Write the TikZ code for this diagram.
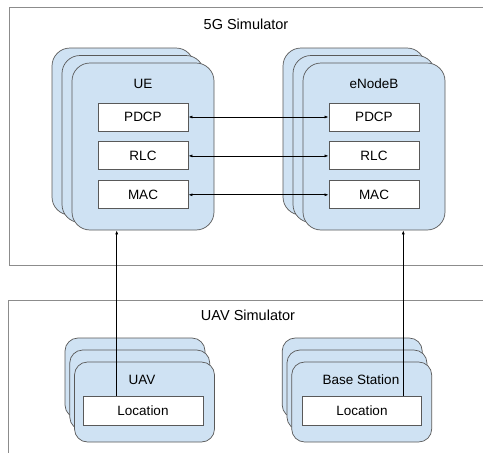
\documentclass[tikz,border=0pt]{standalone}
\usepackage{fontspec}
\setmainfont{Liberation Sans}
\usetikzlibrary{positioning,arrows.meta}
\definecolor{cardblue}{HTML}{CFE2F3}
\definecolor{edgegray}{HTML}{595959}
\definecolor{framegray}{HTML}{8C8C8C}

\begin{document}
\begin{tikzpicture}[x=1pt,y=-1pt,
    frame/.style={draw=framegray,line width=0.8pt},
    bigcard/.style={draw=edgegray,fill=cardblue,line width=0.7pt,rounded corners=18pt,
      minimum width=142pt,minimum height=167pt,inner sep=0pt},
    smallcard/.style={draw=edgegray,fill=cardblue,line width=0.7pt,rounded corners=13pt,
      minimum width=140pt,minimum height=80pt,inner sep=0pt},
    layer/.style={draw=edgegray,fill=white,line width=0.9pt,minimum width=90pt,
      minimum height=28pt,inner sep=0pt,font=\fontsize{13.5}{15}\selectfont},
    label/.style={inner sep=0pt,font=\fontsize{13.5}{15}\selectfont},
    title/.style={inner sep=0pt,font=\fontsize{14.5}{16}\selectfont},
    link/.style={line width=0.7pt,{Latex[length=4pt,width=3pt]}-{Latex[length=4pt,width=3pt]}},
    feed/.style={line width=0.7pt,-{Latex[length=4pt,width=3pt]}}]
  \clip (0,0) rectangle (483,453);

  % the two simulators
  \draw[frame] (9,7) rectangle (495,265);
  \draw[frame] (8.5,300) rectangle (495,470);
  \node[title] (simtop) at (246,24) {5G Simulator};
  \node[title] (simbot) at (248,315) {UAV Simulator};

  % UE and eNodeB stacks
  \foreach \i/\dx/\dy in {2/-20/-15,1/-10/-7.5}{
    \node[bigcard] (ue\i) at (143+\dx,146.5+\dy) {};
    \node[bigcard] (enb\i) at (374+\dx,146.5+\dy) {};
  }
  \node[bigcard] (ue) at (143,146.5) {};
  \node[bigcard] (enb) at (374,146.5) {};
  \node[label] (uename) at ([yshift=-21.5pt]ue.north) {UE};
  \node[label] (enbname) at ([yshift=-21.5pt]enb.north) {eNodeB};

  \node[layer] (uepdcp) at (143,117) {PDCP};
  \node[layer,below=10pt of uepdcp] (uerlc) {RLC};
  \node[layer,below=10pt of uerlc] (uemac) {MAC};
  \node[layer] (enbpdcp) at (374,117) {PDCP};
  \node[layer,below=10pt of enbpdcp] (enbrlc) {RLC};
  \node[layer,below=10pt of enbrlc] (enbmac) {MAC};

  \foreach \l in {pdcp,rlc,mac}
    \draw[link] (ue\l) -- (enb\l);

  % UAV and base station stacks
  \foreach \i/\dx/\dy in {2/-9.5/-24,1/-4.75/-12}{
    \node[smallcard] (uav\i) at (144.5+\dx,402+\dy) {};
    \node[smallcard] (bs\i) at (361.7+\dx,402+\dy) {};
  }
  \node[smallcard] (uav) at (144.5,402) {};
  \node[smallcard] (bs) at (361.7,402) {};
  \node[label] (uavname) at (142,380) {UAV};
  \node[label] (bsname) at (361,380) {Base Station};

  \node[layer,minimum width=120pt,minimum height=29pt] (uavloc) at (143,410.5) {Location};
  \node[layer,minimum width=119pt,minimum height=29pt] (bsloc) at (362,410.5) {Location};

  \draw[feed] ([xshift=-26.3pt]uavloc.north) -- ([xshift=-26.3pt]uavloc.north |- ue.south);
  \draw[feed] ([xshift=41.3pt]bsloc.north) -- ([xshift=41.3pt]bsloc.north |- enb.south);
\end{tikzpicture}
\end{document}
